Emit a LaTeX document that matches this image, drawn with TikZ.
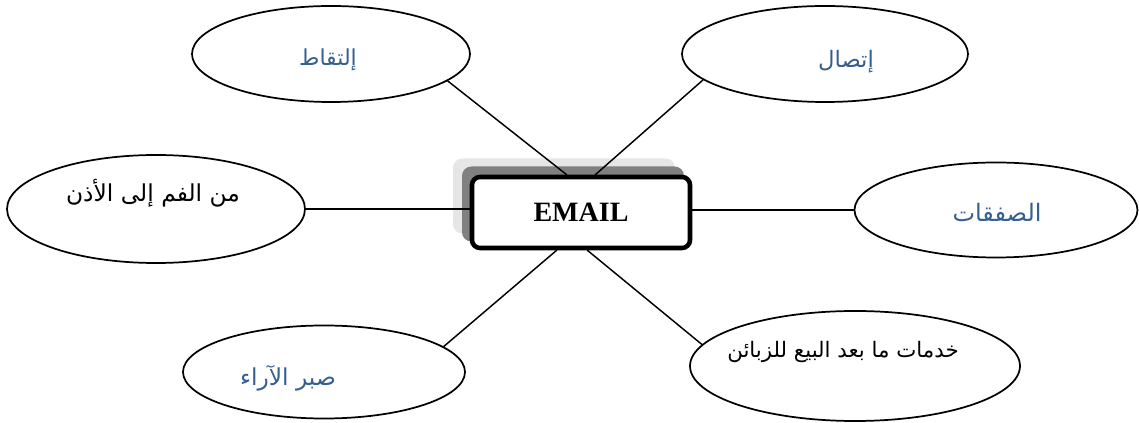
\documentclass[tikz,border=0pt]{standalone}
\usepackage{fontspec}
\setmainfont{Liberation Serif}
\newfontfamily\arabicfont[Script=Arabic]{DejaVu Sans}
\TeXXeTstate=1
\usetikzlibrary{shapes.geometric,calc}
\definecolor{txtblue}{RGB}{54,95,145}
\definecolor{shadowlight}{RGB}{230,230,230}
\definecolor{shadowdark}{RGB}{128,128,128}
\tikzset{
  bubble/.style={ellipse,draw=black,line width=1.3pt,inner sep=0pt,fill=white},
  artext/.style={inner sep=0pt,font=\arabicfont\fontsize{17}{20}\selectfont},
  link/.style={draw=black,line width=1.1pt},
  hub/.style={rectangle,rounded corners=6pt,draw=black,line width=3.4pt,fill=white,
    minimum width=163.5pt,minimum height=53.25pt,inner sep=0pt,
    font=\fontsize{21}{24}\selectfont\bfseries},
  hubshadow/.style={rectangle,rounded corners=7pt,minimum width=166.5pt,minimum height=56.25pt,inner sep=0pt}
}
\begin{document}
\begin{tikzpicture}[x=0.75pt,y=-0.75pt]
\useasboundingbox (0,0) rectangle (1139,423);
% ellipses
\node[bubble,minimum width=208.5pt,minimum height=72pt] (eTL) at (331,54) {};
\node[bubble,minimum width=214.5pt,minimum height=72pt] (eTR) at (825,54) {};
\node[bubble,minimum width=223.5pt,minimum height=81pt] (eL) at (156,209) {};
\node[bubble,minimum width=212.25pt,minimum height=71.25pt] (eR) at (996,210) {};
\node[bubble,minimum width=211.5pt,minimum height=69.75pt] (eBL) at (324,372) {};
\node[bubble,minimum width=247.5pt,minimum height=82.5pt] (eBR) at (855,366) {};
% texts
\node[artext,text=txtblue,font=\arabicfont\fontsize{16.5}{20}\selectfont] (tTL) at (328,60) {\beginR إلتقاط\endR};
\node[artext,text=txtblue] (tTR) at (846,62) {\beginR إتصال\endR};
\node[artext,text=black,font=\arabicfont\fontsize{17.5}{20}\selectfont] (tL) at (153,193) {\beginR من الفم إلى الأذن\endR};
\node[artext,text=txtblue,font=\arabicfont\fontsize{18}{20}\selectfont] (tR) at (997,213) {\beginR الصفقات\endR};
\node[artext,text=black,font=\arabicfont\fontsize{16}{18}\selectfont] (tBR) at (843,352) {\beginR خدمات ما بعد البيع للزبائن\endR};
\node[artext,text=txtblue,font=\arabicfont\fontsize{17.5}{20}\selectfont] (tBL) at (288,378) {\beginR صبر الآراء\endR};
% shadows and hub
\node[hubshadow,fill=shadowlight] (sh1) at (564,196) {};
\node[hubshadow,fill=shadowdark] (sh2) at (573,204) {};
\node[hub] (box) at (581,212.5) {EMAIL};
% connection points on hub
\coordinate (bt1) at (567,175);
\coordinate (bt2) at (595,175);
\coordinate (bb1) at (557,250);
\coordinate (bb2) at (587,250);
% connectors
\draw[link] (eTL.-13) -- (bt1);
\draw[link] (eTR.-168) -- (bt2);
\draw[link] (eL.east) -- (eL.east -| box.west);
\draw[link] (eR.west) -- (eR.west -| box.east);
\draw[link] (eBL.12) -- (bb1);
\draw[link] (eBR.172) -- (bb2);
\end{tikzpicture}
\end{document}
